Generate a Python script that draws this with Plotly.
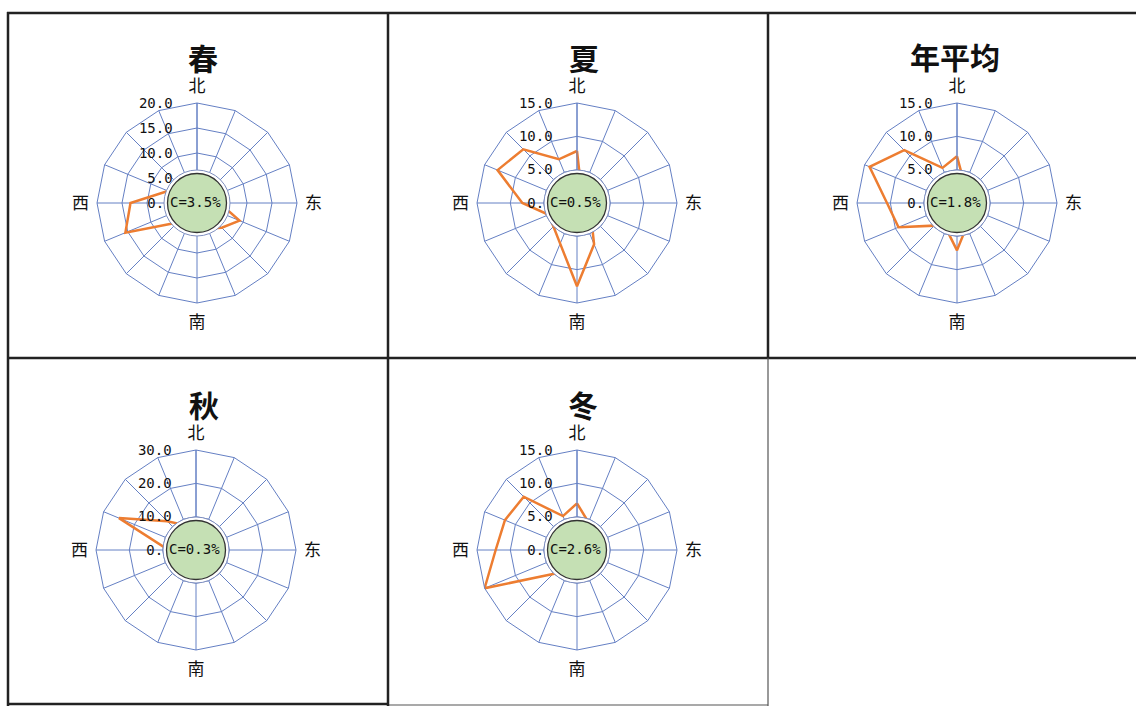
import plotly.graph_objects as go

W, H = 1136, 706

# 16 compass sectors, clockwise from north
directions = ["N", "NNE", "NE", "ENE", "E", "ESE", "SE", "SSE",
              "S", "SSW", "SW", "WSW", "W", "WNW", "NW", "NNW"]
direction_labels = ["北", "", "", "", "东", "", "", "",
                    "南", "", "", "", "西", "", "", ""]

# wind frequency (%) per sector
spring = [3.0, 2.5, 2.0, 3.0, 4.5, 9.2, 7.0, 5.5, 4.0, 3.0, 5.5, 15.5, 13.3, 6.3, 4.0, 3.0]
summer = [7.8, 1.8, 1.5, 1.2, 1.0, 1.5, 3.0, 6.7, 12.5, 6.6, 5.0, 4.6, 8.2, 12.9, 11.4, 7.1]
annual = [7.0, 3.0, 2.5, 2.5, 2.5, 3.0, 3.0, 3.8, 7.1, 4.2, 4.8, 9.5, 10.5, 14.2, 11.2, 5.7]
autumn = [3.0, 1.0, 1.0, 1.0, 1.0, 1.0, 1.0, 2.0, 3.0, 2.0, 2.0, 4.0, 8.2, 25.0, 12.2, 8.0]
winter = [7.0, 4.5, 3.0, 3.5, 4.0, 4.7, 3.0, 2.5, 3.0, 3.5, 5.1, 15.0, 12.2, 11.7, 11.3, 5.5]

titles = ["春", "夏", "年平均", "秋", "冬"]
calm = ["C=3.5%", "C=0.5%", "C=1.8%", "C=0.3%", "C=2.6%"]
radial_max = [20, 15, 15, 30, 15]
radial_step = [5, 5, 5, 10, 5]
series = [spring, summer, annual, autumn, winter]

# panel layout in pixels: rose centre, rose radius, title position
centers = [(197, 203), (577, 203), (957, 203), (196, 550), (577, 550)]
title_pos = [(203, 57), (584, 57), (955, 56), (204, 404), (583, 404)]
R = 100

GRID = "#6580c4"
ORANGE = "#ED7D31"
MONO = "DejaVu Sans Mono"
CJK = "Noto Sans CJK SC"


def px(x):
    return x / W


def py(y):
    return 1 - y / H


fig = go.Figure()
layout = {}
shapes = []
annotations = []

for i, (vals, cx_cy) in enumerate(zip(series, centers)):
    cx, cy = cx_cy
    name = "polar" if i == 0 else f"polar{i + 1}"
    fig.add_trace(go.Scatterpolar(
        r=vals + vals[:1],
        theta=directions + directions[:1],
        mode="lines",
        line=dict(color=ORANGE, width=2.5),
        subplot=name,
        showlegend=False,
        hoverinfo="skip",
    ))
    ticks = list(range(0, radial_max[i] + 1, radial_step[i]))
    layout[name] = dict(
        domain=dict(x=[px(cx - R), px(cx + R)], y=[py(cy + R), py(cy - R)]),
        gridshape="linear",
        bgcolor="white",
        angularaxis=dict(
            type="category",
            categoryorder="array",
            categoryarray=directions,
            direction="clockwise",
            rotation=90,
            tickmode="array",
            tickvals=directions,
            ticktext=direction_labels,
            showgrid=True,
            gridcolor=GRID,
            gridwidth=1,
            showline=True,
            linecolor=GRID,
            linewidth=1,
            ticks="outside",
            ticklen=4,
            tickcolor="rgba(0,0,0,0)",
            tickfont=dict(family=CJK, size=17, color="#111"),
        ),
        radialaxis=dict(
            range=[0, radial_max[i]],
            tickmode="array",
            tickvals=ticks,
            ticktext=[f"{t:.1f}" for t in ticks],
            angle=90,
            side="counterclockwise",
            showgrid=True,
            gridcolor=GRID,
            gridwidth=1,
            showline=True,
            linecolor=GRID,
            linewidth=1,
            ticks="outside",
            ticklen=19,
            tickcolor="rgba(0,0,0,0)",
            tickangle=90,
            tickfont=dict(family=MONO, size=14, color="#111"),
        ),
    )
    # calm-wind disc in the middle of the rose
    shapes.append(dict(type="circle", xref="paper", yref="paper", layer="above",
                       x0=px(cx - 33), x1=px(cx + 33), y0=py(cy + 33), y1=py(cy - 33),
                       fillcolor="white", line=dict(color="#7f8fbf", width=1)))
    shapes.append(dict(type="circle", xref="paper", yref="paper", layer="above",
                       x0=px(cx - 29.5), x1=px(cx + 29.5), y0=py(cy + 29.5), y1=py(cy - 29.5),
                       fillcolor="#c5e0b4", line=dict(color="#333", width=1.3)))
    annotations.append(dict(x=px(cx - 2), y=py(cy - 1), xref="paper", yref="paper",
                            xanchor="center", yanchor="middle",
                            text=calm[i], showarrow=False,
                            font=dict(family=MONO, size=14, color="#111")))
    tx, ty = title_pos[i]
    annotations.append(dict(x=px(tx), y=py(ty), xref="paper", yref="paper",
                            xanchor="center", yanchor="middle",
                            text=f"<b>{titles[i]}</b>", showarrow=False,
                            font=dict(family=CJK, size=30, color="#111")))

# table borders around the panels
def hline(x0, x1, y, width=2.5, color="#222"):
    shapes.append(dict(type="line", xref="paper", yref="paper", layer="above",
                       x0=px(x0), x1=px(x1), y0=py(y), y1=py(y),
                       line=dict(color=color, width=width)))


def vline(x, y0, y1, width=2.5, color="#222"):
    shapes.append(dict(type="line", xref="paper", yref="paper", layer="above",
                       x0=px(x), x1=px(x), y0=py(y0), y1=py(y1),
                       line=dict(color=color, width=width)))


hline(7, 1136, 13)
hline(7, 1136, 358)
hline(7, 388, 704)
hline(388, 768, 705, width=1.2, color="#555")
vline(8, 12, 706)
vline(388, 12, 706)
vline(768, 12, 358)
vline(768, 358, 706, width=1.2, color="#555")

fig.update_layout(
    width=W, height=H,
    margin=dict(l=0, r=0, t=0, b=0),
    paper_bgcolor="white",
    showlegend=False,
    shapes=shapes,
    annotations=annotations,
    **layout,
)

fig.write_html("out.html")
